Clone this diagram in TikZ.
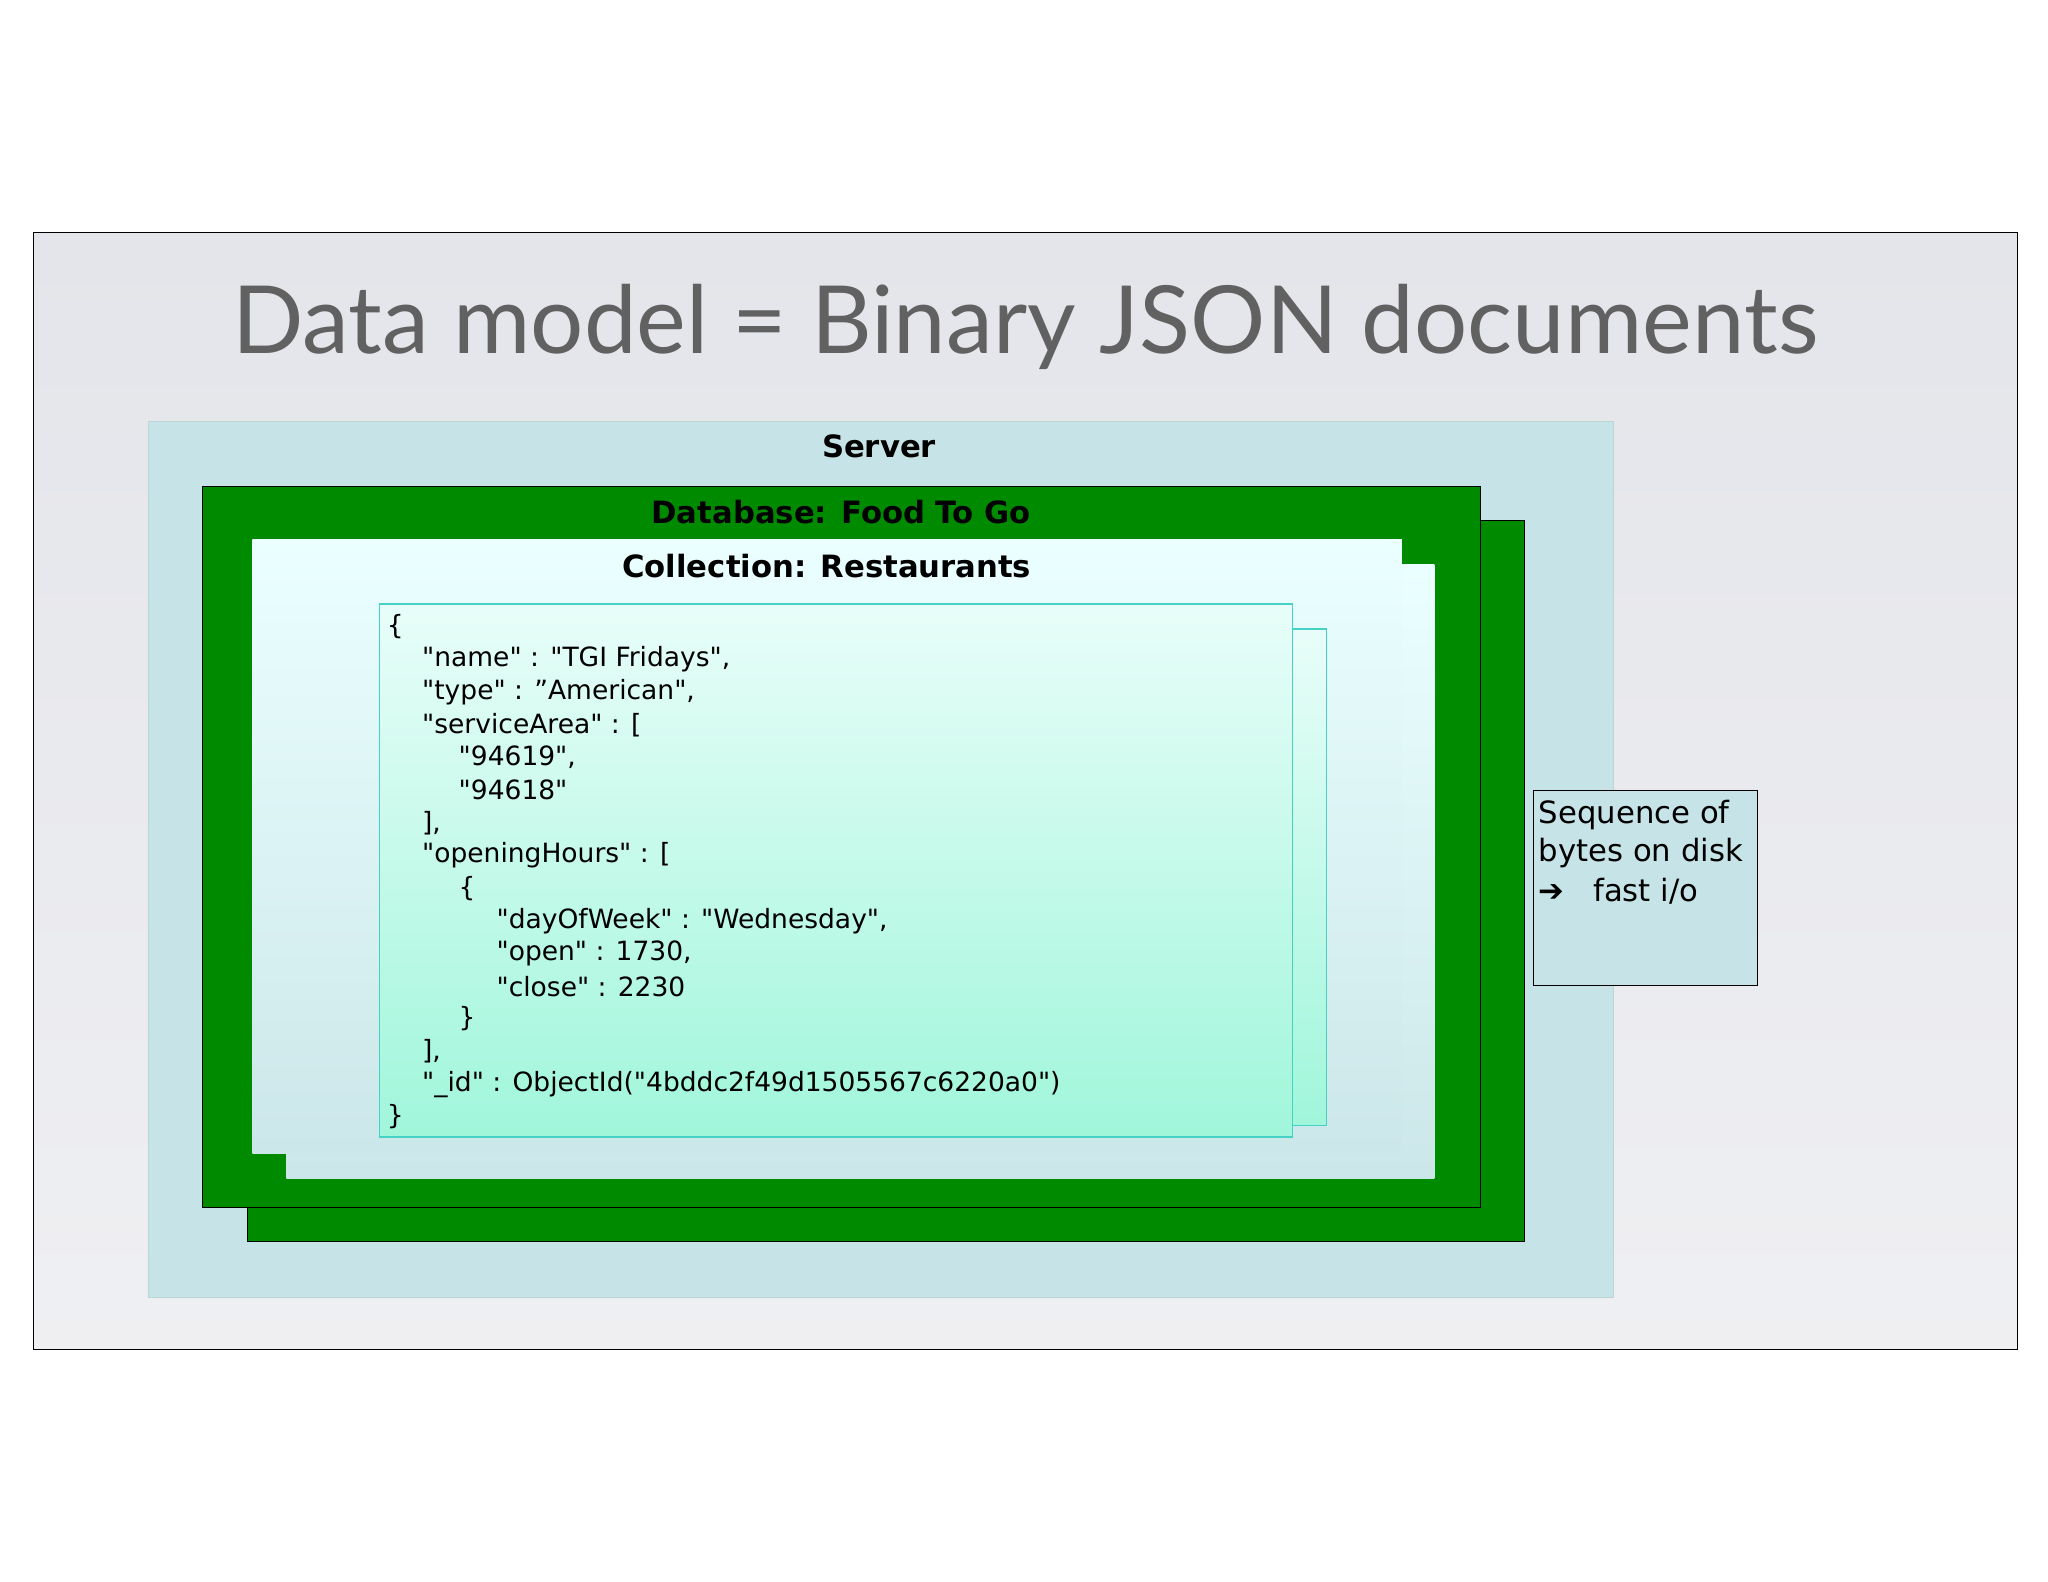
\documentclass[tikz,border=0pt]{standalone}
\usepackage{fontspec}
\setmainfont{DejaVu Sans}[Ligatures=TeXOff]
\newfontfamily\titlefont{Lato}
\newcommand\qq{"}
\definecolor{slidebg}{HTML}{E4E5EA}
\definecolor{serverbg}{HTML}{C6E4E7}
\definecolor{dbgreen}{HTML}{008A00}
\definecolor{doctop}{HTML}{E8FDF9}
\definecolor{docbot}{HTML}{A0F6DA}
\definecolor{docline}{HTML}{45D2C4}
\tikzset{
  dbbox/.style={draw=black,fill=dbgreen,line width=0.8pt},
  collbox/.style={top color=cyan!8!white,bottom color=serverbg!90!white,draw=none},
  docbox/.style={top color=doctop,bottom color=docbot,draw=docline,line width=1pt},
  lbl/.style={font=\bfseries\fontsize{23.5}{27}\selectfont},
  js/.style={anchor=west,font=\fontsize{20.3}{24}\selectfont,inner sep=0pt},
  sidetxt/.style={anchor=west,font=\fontsize{23.5}{27}\selectfont,inner sep=0pt}
}
\begin{document}
\begin{tikzpicture}[x=1pt,y=-1pt]
\useasboundingbox (0,0) rectangle (1568,1211);
\fill[white] (0,0) rectangle (1568,1211);
\node[draw=black,line width=0.6pt,inner sep=0pt,top color=slidebg,bottom color=slidebg!60!white,minimum width=1519pt,minimum height=855pt,anchor=north west] (slide) at (25,178) {};
\node[text=black!62,font=\titlefont\fontsize{72}{80}\selectfont] (title) at (785,250) {Data model = Binary JSON documents};
\node[fill=serverbg,draw=serverbg!85!gray,anchor=north west,minimum width=1122pt,minimum height=671pt,inner sep=0pt] (server) at (113,322) {};
\node[lbl] (serverl) at (673,342) {Server};
\node[dbbox,anchor=north west,minimum width=978pt,minimum height=552pt,inner sep=0pt] (db2) at (189,398) {};
\node[dbbox,anchor=north west,minimum width=978pt,minimum height=552pt,inner sep=0pt] (db1) at (155,372) {};
\node[lbl] (dbl) at (644,392) {Database: Food To Go};
\node[collbox,anchor=north west,minimum width=879pt,minimum height=470pt,inner sep=0pt] (coll2) at (219,432) {};
\node[collbox,anchor=north west,minimum width=880pt,minimum height=470pt,inner sep=0pt] (coll1) at (193,413) {};
\node[lbl] (colll) at (633,433) {Collection: Restaurants};
\node[docbox,anchor=north west,minimum width=725pt,minimum height=380pt,inner sep=0pt] (doc2) at (290,481) {};
\node[docbox,anchor=north west,minimum width=699pt,minimum height=408pt,inner sep=0pt] (doc1) at (290,462) {};
\node[js] (j1) at (296,480) {\{};
\node[js] (j2) at (323,505) {"name" : "TGI Fridays",};
\node[js] (j3) at (323,530) {"type" : ”American",};
\node[js] (j4) at (323,555) {"serviceArea" : [};
\node[js] (j5) at (351,580) {"94619",};
\node[js] (j6) at (351,605) {"94618"};
\node[js] (j7) at (323,630) {],};
\node[js] (j8) at (323,655) {"openingHours" : [};
\node[js] (j9) at (351,680) {\{};
\node[js] (j10) at (380,705) {"dayOfWeek" : "Wednesday",};
\node[js] (j11) at (380,730) {"open" : 1730,};
\node[js] (j12) at (380,755) {"close" : 2230};
\node[js] (j13) at (351,780) {\}};
\node[js] (j14) at (323,805) {],};
\node[js] (j15) at (323,830) {"\_id" : ObjectId("4bddc2f49d1505567c6220a0")};
\node[js] (j16) at (296,855) {\}};
\node[fill=serverbg,draw=black,line width=0.8pt,anchor=north west,minimum width=171pt,minimum height=149pt,inner sep=0pt] (side) at (1174,605) {};
\node[sidetxt] (s1) at (1178,624) {Sequence of};
\node[sidetxt] (s2) at (1178,653) {bytes on disk};
\node[sidetxt] (s3) at (1178,682) {{\bfseries ➔}\hspace{22pt}fast i/o};
\end{tikzpicture}
\end{document}
